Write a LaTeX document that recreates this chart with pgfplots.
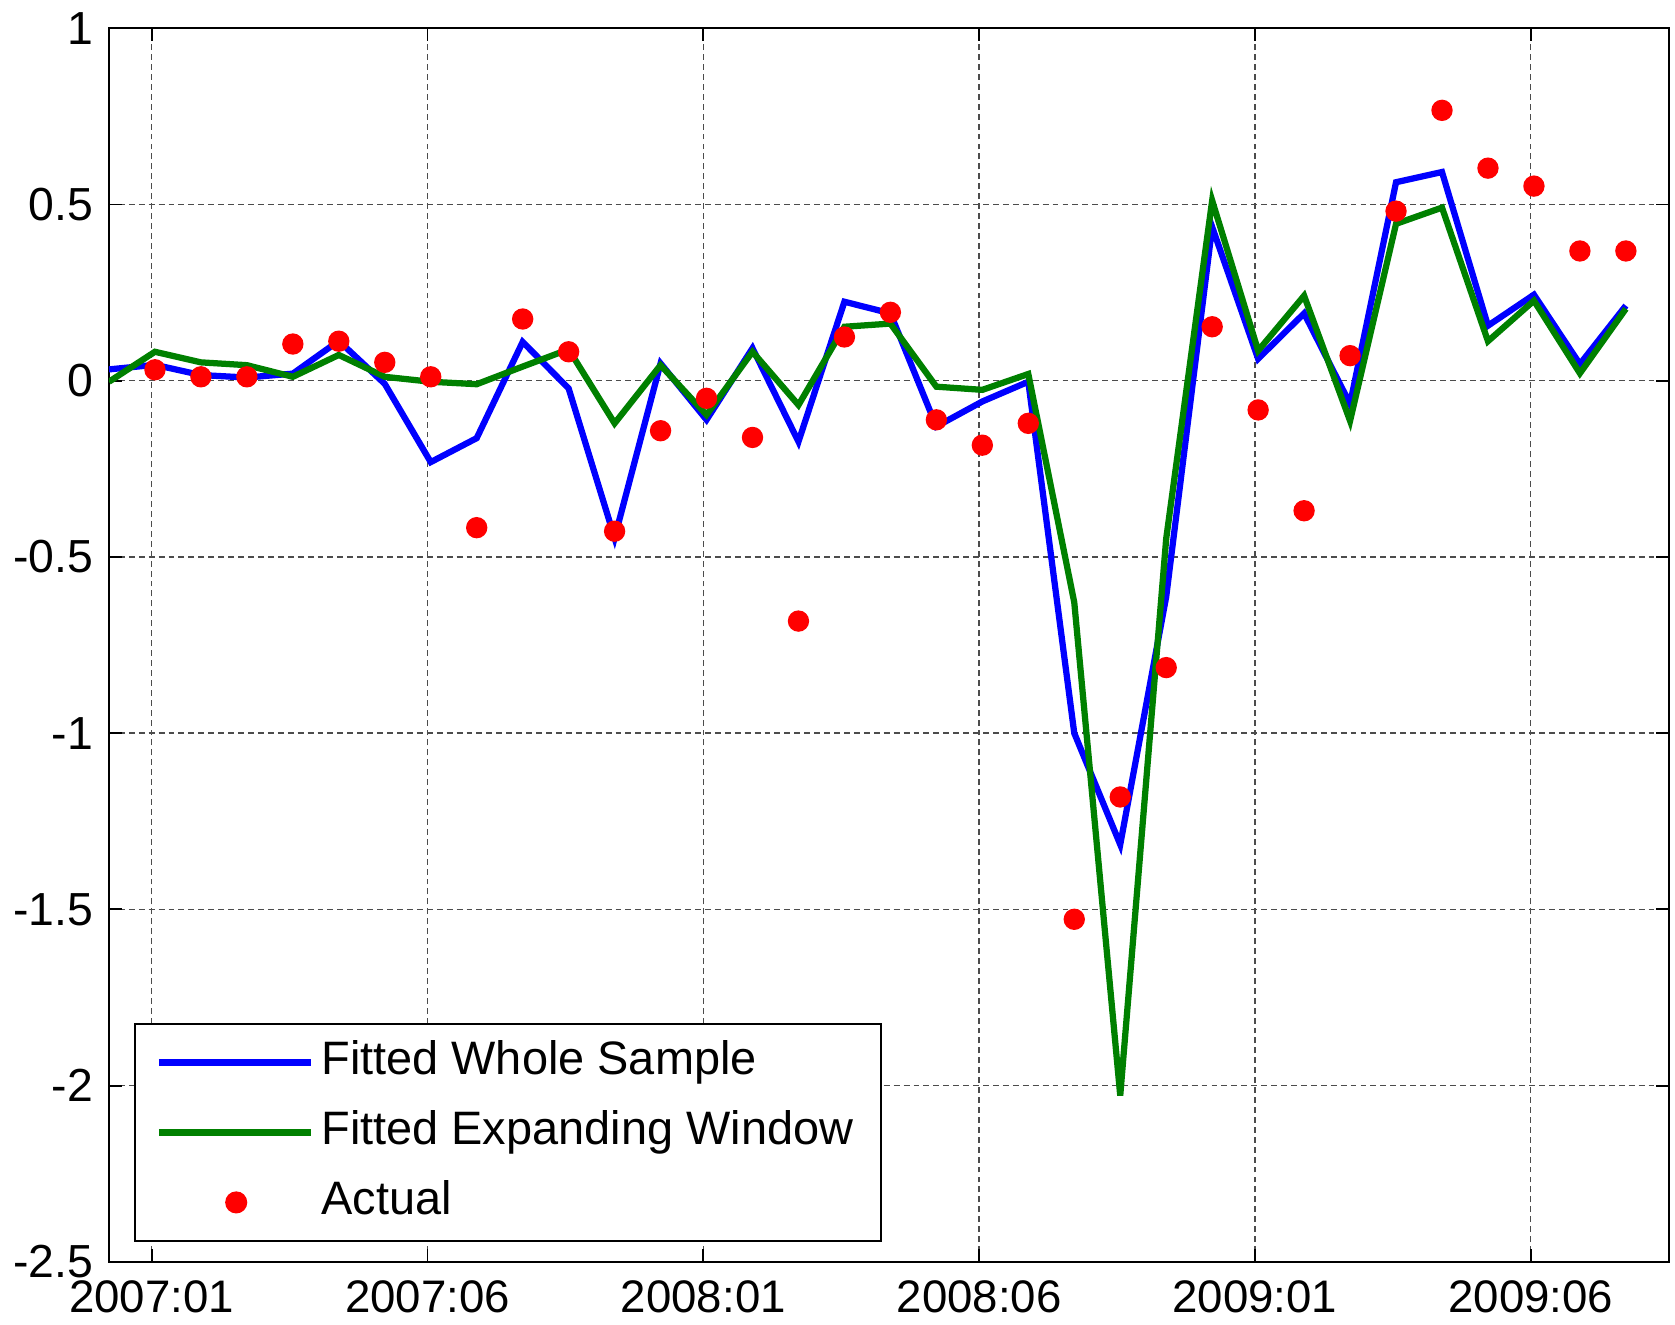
\documentclass[border=0pt]{standalone}
\usepackage{pgfplots}
\pgfplotsset{compat=1.18}
\usepackage{fontspec}
\setmainfont{Liberation Sans}

\definecolor{mblue}{RGB}{0,0,255}
\definecolor{mgreen}{RGB}{0,128,0}
\definecolor{mred}{RGB}{255,0,0}

\pgfplotsset{
  dotlegend/.style={legend image code/.code={\draw[##1] plot coordinates {(0.74cm,0cm)};}},
}

\begin{document}
\begin{tikzpicture}
\begin{axis}[
  scale only axis,
  width=14.9cm, height=11.786cm,
  xmin=0, xmax=33.93,
  ymin=-2.5, ymax=1,
  xtick={0.93,6.93,12.93,18.93,24.93,30.93},
  xticklabels={2007:01,2007:06,2008:01,2008:06,2009:01,2009:06},
  ytick={-2.5,-2,-1.5,-1,-0.5,0,0.5,1},
  yticklabels={-2.5,-2,-1.5,-1,-0.5,0,0.5,1},
  tick align=inside,
  major tick length=0.12cm,
  tick style={black, line width=0.5pt},
  axis line style={black, line width=0.6pt},
  grid=major,
  major grid style={black!70, line width=0.4pt, dash pattern=on 1.6pt off 1.1pt},
  tick label style={font=\fontsize{12.4}{14}\selectfont},
  yticklabel style={font=\fontsize{12.6}{14}\selectfont, xshift=-0.8pt},
  xticklabel style={yshift=-1.5pt},
  legend cell align=left,
  legend style={
    at={(0.016,0.016)}, anchor=south west,
    draw=black, line width=0.6pt, fill=white,
    font=\fontsize{12.75}{15}\selectfont,
    inner xsep=5.5pt, inner ysep=2.6pt,
    row sep=3.2pt,
    nodes={text height=9.2pt, text depth=2.6pt, inner sep=2pt},
  },
  legend image code/.code={\draw[#1, line width=1.9pt] (0cm,0cm) -- (1.45cm,0cm);},
]
\addplot[mblue, line width=1.7pt, mark=none] coordinates {
 (0,0.032) (1,0.045) (2,0.016) (3,0.009) (4,0.020) (5,0.113) (6,-0.009)
 (7,-0.231) (8,-0.163) (9,0.110) (10,-0.022) (11,-0.446) (12,0.049)
 (13,-0.111) (14,0.092) (15,-0.173) (16,0.224) (17,0.191) (18,-0.130)
 (19,-0.059) (20,-0.003) (21,-1.000) (22,-1.316) (23,-0.613) (24,0.436)
 (25,0.062) (26,0.191) (27,-0.066) (28,0.563) (29,0.592) (30,0.156)
 (31,0.244) (32,0.047) (33,0.213)
};
\addlegendentry{Fitted Whole Sample}
\addplot[mgreen, line width=1.7pt, mark=none] coordinates {
 (0,-0.003) (1,0.082) (2,0.052) (3,0.044) (4,0.011) (5,0.073) (6,0.011)
 (7,-0.003) (8,-0.010) (9,0.040) (10,0.089) (11,-0.121) (12,0.044)
 (13,-0.097) (14,0.082) (15,-0.069) (16,0.153) (17,0.162) (18,-0.017)
 (19,-0.026) (20,0.019) (21,-0.629) (22,-2.028) (23,-0.448) (24,0.511)
 (25,0.085) (26,0.241) (27,-0.114) (28,0.445) (29,0.491) (30,0.112)
 (31,0.227) (32,0.021) (33,0.204)
};
\addlegendentry{Fitted Expanding Window}
\addplot[only marks, mark=*, mark size=2.7pt, mred, mark options={draw=mred, fill=mred}, dotlegend] coordinates {
 (1,0.031) (2,0.011) (3,0.011) (4,0.104) (5,0.112) (6,0.052) (7,0.011)
 (8,-0.417) (9,0.175) (10,0.082) (11,-0.427) (12,-0.142) (13,-0.050)
 (14,-0.161) (15,-0.682) (16,0.124) (17,0.194) (18,-0.111) (19,-0.183)
 (20,-0.121) (21,-1.528) (22,-1.181) (23,-0.814) (24,0.153) (25,-0.083)
 (26,-0.369) (27,0.071) (28,0.481) (29,0.767) (30,0.603) (31,0.552)
 (32,0.368) (33,0.368)
};
\addlegendentry{Actual}
\end{axis}
\path ([xshift=-1.041cm,yshift=-0.592cm]current axis.south west) rectangle ([xshift=0.061cm,yshift=0.255cm]current axis.north east);
\end{tikzpicture}
\end{document}
